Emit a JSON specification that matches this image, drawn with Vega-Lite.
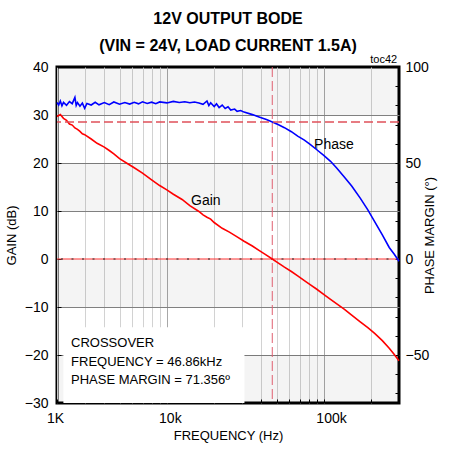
{
  "$schema": "https://vega.github.io/schema/vega-lite/v6.json",
  "width": 342,
  "height": 336,
  "autosize": {"type": "none"},
  "padding": {"left": 57, "top": 67, "right": 58, "bottom": 48},
  "background": "white",
  "title": {
    "text": ["12V OUTPUT BODE", "(VIN = 24V, LOAD CURRENT 1.5A)"],
    "font": "Liberation Sans",
    "fontSize": 16,
    "fontWeight": "bold",
    "color": "black",
    "anchor": "middle",
    "lineHeight": 27,
    "offset": 0
  },
  "config": {
    "view": {"stroke": "black", "strokeWidth": 3},
    "axis": {
      "labelFont": "Liberation Sans",
      "titleFont": "Liberation Sans",
      "labelFontSize": 14,
      "titleFontSize": 13,
      "titleFontWeight": "normal",
      "labelColor": "black",
      "titleColor": "black",
      "domain": false,
      "tickColor": "black",
      "labelOverlap": false
    }
  },
  "datasets": {
    "gain": [
      {"f": 2000, "g": 29.7}, {"f": 2100, "g": 30.1}, {"f": 2200, "g": 29.3}, {"f": 2300, "g": 28.9},
      {"f": 2400, "g": 28.1}, {"f": 2500, "g": 27.9}, {"f": 2600, "g": 27.3}, {"f": 2700, "g": 27.0},
      {"f": 2800, "g": 26.6}, {"f": 2900, "g": 26.1}, {"f": 3000, "g": 25.9}, {"f": 3300, "g": 25.0},
      {"f": 3600, "g": 24.1}, {"f": 4000, "g": 23.3}, {"f": 4300, "g": 22.6}, {"f": 4600, "g": 21.9},
      {"f": 5000, "g": 20.9}, {"f": 5600, "g": 19.9}, {"f": 6200, "g": 19.0}, {"f": 7000, "g": 17.9},
      {"f": 8000, "g": 16.5}, {"f": 9000, "g": 15.3}, {"f": 10000, "g": 14.4}, {"f": 11000, "g": 13.5},
      {"f": 12500, "g": 12.4}, {"f": 14000, "g": 11.1}, {"f": 16000, "g": 9.9}, {"f": 17000, "g": 9.2},
      {"f": 18000, "g": 8.7}, {"f": 19000, "g": 8.3}, {"f": 20000, "g": 7.6}, {"f": 22500, "g": 6.4},
      {"f": 25000, "g": 5.6}, {"f": 28000, "g": 4.6}, {"f": 31000, "g": 3.7}, {"f": 35000, "g": 2.7},
      {"f": 39000, "g": 1.7}, {"f": 43000, "g": 0.8}, {"f": 46860, "g": 0.0}, {"f": 51000, "g": -0.8},
      {"f": 56000, "g": -1.7}, {"f": 62000, "g": -2.6}, {"f": 68000, "g": -3.5}, {"f": 75000, "g": -4.5},
      {"f": 82000, "g": -5.4}, {"f": 90000, "g": -6.3}, {"f": 100000, "g": -7.4}, {"f": 110000, "g": -8.4},
      {"f": 120000, "g": -9.3}, {"f": 135000, "g": -10.5}, {"f": 150000, "g": -11.7}, {"f": 170000, "g": -13.1},
      {"f": 190000, "g": -14.3}, {"f": 210000, "g": -15.5}, {"f": 235000, "g": -17.0}, {"f": 260000, "g": -18.6},
      {"f": 280000, "g": -19.9}, {"f": 300000, "g": -21.2}
    ],
    "phase": [
      {"f": 2000, "p": 81.5}, {"f": 2050, "p": 80.2}, {"f": 2100, "p": 82.3}, {"f": 2150, "p": 79.8},
      {"f": 2200, "p": 81.6}, {"f": 2300, "p": 80.1}, {"f": 2400, "p": 82.0}, {"f": 2500, "p": 80.9},
      {"f": 2600, "p": 84.2}, {"f": 2650, "p": 80.0}, {"f": 2700, "p": 81.5}, {"f": 2800, "p": 79.6},
      {"f": 2900, "p": 81.2}, {"f": 3000, "p": 78.5}, {"f": 3100, "p": 81.0}, {"f": 3300, "p": 80.2},
      {"f": 3500, "p": 81.6}, {"f": 3700, "p": 80.3}, {"f": 4000, "p": 81.5}, {"f": 4300, "p": 80.4},
      {"f": 4600, "p": 81.8}, {"f": 5000, "p": 80.6}, {"f": 5400, "p": 81.5}, {"f": 5800, "p": 80.7},
      {"f": 6200, "p": 81.6}, {"f": 6600, "p": 80.8}, {"f": 7000, "p": 81.9}, {"f": 7500, "p": 81.0},
      {"f": 8000, "p": 81.7}, {"f": 8500, "p": 80.9}, {"f": 9000, "p": 81.8}, {"f": 10000, "p": 81.3},
      {"f": 11000, "p": 82.1}, {"f": 12000, "p": 81.5}, {"f": 13000, "p": 81.9}, {"f": 14000, "p": 81.4},
      {"f": 15000, "p": 81.8}, {"f": 16000, "p": 81.3}, {"f": 17000, "p": 80.6}, {"f": 18000, "p": 82.3},
      {"f": 18500, "p": 79.9}, {"f": 19000, "p": 81.4}, {"f": 20000, "p": 79.4}, {"f": 20700, "p": 80.8},
      {"f": 21500, "p": 78.9}, {"f": 22500, "p": 80.2}, {"f": 23500, "p": 78.4}, {"f": 24500, "p": 79.3},
      {"f": 25500, "p": 77.6}, {"f": 27000, "p": 78.1}, {"f": 28000, "p": 76.9}, {"f": 29500, "p": 77.3},
      {"f": 31000, "p": 76.5}, {"f": 35000, "p": 75.2}, {"f": 39000, "p": 73.8}, {"f": 43000, "p": 72.6},
      {"f": 46860, "p": 71.36}, {"f": 51000, "p": 70.0}, {"f": 56000, "p": 68.4}, {"f": 62000, "p": 66.3},
      {"f": 68000, "p": 64.0}, {"f": 75000, "p": 61.9}, {"f": 82000, "p": 59.6}, {"f": 90000, "p": 56.9},
      {"f": 100000, "p": 53.8}, {"f": 110000, "p": 50.9}, {"f": 120000, "p": 47.5}, {"f": 135000, "p": 42.6},
      {"f": 150000, "p": 38.0}, {"f": 170000, "p": 31.7}, {"f": 190000, "p": 25.6}, {"f": 210000, "p": 19.5},
      {"f": 235000, "p": 12.6}, {"f": 260000, "p": 6.0}, {"f": 280000, "p": 2.5}, {"f": 300000, "p": -1.2}
    ],
    "bands": [
      {"b0": 30, "b1": 40}, {"b0": 10, "b1": 20}, {"b0": -10, "b1": 0}, {"b0": -30, "b1": -20}
    ],
    "box": [
      {"f0": 2197, "f1": 31170, "g0": -30, "g1": -14.2}
    ],
    "zero": [{"g": 0}],
    "crossover": [{"f": 46860}],
    "margin": [{"p": 71.356}],
    "curvelabels": [
      {"t": "Gain", "f": 17700, "g": 12.1},
      {"t": "Phase", "f": 115700, "g": 23.7}
    ],
    "note": [
      {"t": ["CROSSOVER", "FREQUENCY = 46.86kHz", "PHASE MARGIN = 71.356º"], "f": 2457, "g": -17.5}
    ],
    "tag": [
      {"t": "toc42", "f": 240000, "g": 41.5}
    ]
  },
  "layer": [
    {
      "layer": [
        {
          "data": {"name": "bands"},
          "mark": {"type": "rect", "color": "#000000", "opacity": 0.045},
          "encoding": {
            "y": {"field": "b0", "type": "quantitative"},
            "y2": {"field": "b1"}
          }
        },
        {
          "data": {"name": "box"},
          "mark": {"type": "rect", "color": "white"},
          "encoding": {
            "x": {"field": "f0", "type": "quantitative"},
            "x2": {"field": "f1"},
            "y": {"field": "g0", "type": "quantitative"},
            "y2": {"field": "g1"}
          }
        },
        {
          "data": {"name": "zero"},
          "mark": {"type": "rule", "color": "#ff3333", "strokeWidth": 1},
          "encoding": {"y": {"field": "g", "type": "quantitative"}}
        },
        {
          "data": {"name": "zero"},
          "mark": {"type": "rule", "color": "#222222", "strokeWidth": 1, "strokeDash": [2, 8.5]},
          "encoding": {"y": {"field": "g", "type": "quantitative"}}
        },
        {
          "data": {"name": "crossover"},
          "mark": {"type": "rule", "color": "#e06070", "strokeWidth": 1, "strokeDash": [10, 4]},
          "encoding": {"x": {"field": "f", "type": "quantitative"}}
        },
        {
          "data": {"name": "gain"},
          "mark": {"type": "line", "color": "#ff0000", "strokeWidth": 1.6},
          "encoding": {
            "x": {
              "field": "f",
              "type": "quantitative",
              "scale": {"type": "log", "domain": [2000, 300000], "nice": false},
              "axis": {
                "values": [2000, 3000, 4000, 5000, 6000, 7000, 8000, 9000, 10000, 20000, 30000, 40000, 50000, 60000, 70000, 80000, 90000, 100000, 200000],
                "labelExpr": "datum.value == 2000 ? '1K' : datum.value == 10000 ? '10k' : datum.value == 100000 ? '100k' : ''",
                "title": "FREQUENCY (Hz)",
                "tickSize": -4,
                "labelPadding": 12,
                "labelFlush": false,
                "labelOverlap": false,
                "labelOffset": {"condition": [{"test": "datum.value == 2000", "value": -2}, {"test": "datum.value == 100000", "value": 7}], "value": 3},
                "titlePadding": 4,
                "grid": true,
                "gridColor": {"condition": {"test": "datum.value == 10000 || datum.value == 100000", "value": "#a8a8a8"}, "value": "#d2d2d2"}
              }
            },
            "y": {
              "field": "g",
              "type": "quantitative",
              "scale": {"domain": [-30, 40], "nice": false, "zero": false},
              "axis": {
                "values": [-30, -25, -20, -15, -10, -5, 0, 5, 10, 15, 20, 25, 30, 35, 40],
                "labelExpr": "datum.value % 10 == 0 ? datum.label : ''",
                "labelOverlap": false,
                "title": "GAIN (dB)",
                "tickSize": -4,
                "labelPadding": 13,
                "titlePadding": 6,
                "grid": true,
                "gridColor": "#808080",
                "gridOpacity": {"condition": {"test": "datum.value % 10 != 0 || datum.value == 40 || datum.value == -30 || datum.value == 0", "value": 0}, "value": 1}
              }
            }
          }
        },
        {
          "data": {"name": "curvelabels"},
          "mark": {"type": "text", "font": "Liberation Sans", "fontSize": 14, "color": "black", "align": "center", "baseline": "middle"},
          "encoding": {
            "x": {"field": "f", "type": "quantitative"},
            "y": {"field": "g", "type": "quantitative"},
            "text": {"field": "t"}
          }
        },
        {
          "data": {"name": "note"},
          "mark": {"type": "text", "font": "Liberation Sans", "fontSize": 13, "color": "black", "align": "left", "baseline": "middle", "lineHeight": 18.5},
          "encoding": {
            "x": {"field": "f", "type": "quantitative"},
            "y": {"field": "g", "type": "quantitative"},
            "text": {"field": "t"}
          }
        },
        {
          "data": {"name": "tag"},
          "mark": {"type": "text", "font": "Liberation Sans", "fontSize": 11, "color": "black", "align": "center", "baseline": "middle"},
          "encoding": {
            "x": {"field": "f", "type": "quantitative"},
            "y": {"field": "g", "type": "quantitative"},
            "text": {"field": "t"}
          }
        }
      ]
    },
    {
      "layer": [
        {
          "data": {"name": "phase"},
          "mark": {"type": "line", "color": "#0000ff", "strokeWidth": 1.6},
          "encoding": {
            "x": {"field": "f", "type": "quantitative", "scale": {"type": "log", "domain": [2000, 300000], "nice": false}},
            "y": {
              "field": "p",
              "type": "quantitative",
              "scale": {"domain": [-75, 100], "nice": false, "zero": false},
              "axis": {
                "orient": "right",
                "values": [-70, -60, -50, -40, -30, -20, -10, 0, 10, 20, 30, 40, 50, 60, 70, 80, 90, 100],
                "labelExpr": "datum.value % 50 == 0 ? datum.label : ''",
                "labelOverlap": false,
                "title": "PHASE MARGIN (°)",
                "titleAngle": 270,
                "tickSize": -4,
                "labelPadding": 10,
                "titlePadding": 8,
                "grid": false
              }
            }
          }
        },
        {
          "data": {"name": "margin"},
          "mark": {"type": "rule", "color": "#e0505a", "strokeWidth": 1.3, "strokeDash": [9, 4]},
          "encoding": {
            "y": {
              "field": "p",
              "type": "quantitative",
              "axis": {
                "orient": "right",
                "values": [-70, -60, -50, -40, -30, -20, -10, 0, 10, 20, 30, 40, 50, 60, 70, 80, 90, 100],
                "labelExpr": "datum.value % 50 == 0 ? datum.label : ''",
                "labelOverlap": false,
                "title": "PHASE MARGIN (°)",
                "titleAngle": 270,
                "tickSize": -4,
                "labelPadding": 10,
                "titlePadding": 8,
                "grid": false
              }
            }
          }
        }
      ]
    }
  ],
  "resolve": {"scale": {"y": "independent"}}
}
